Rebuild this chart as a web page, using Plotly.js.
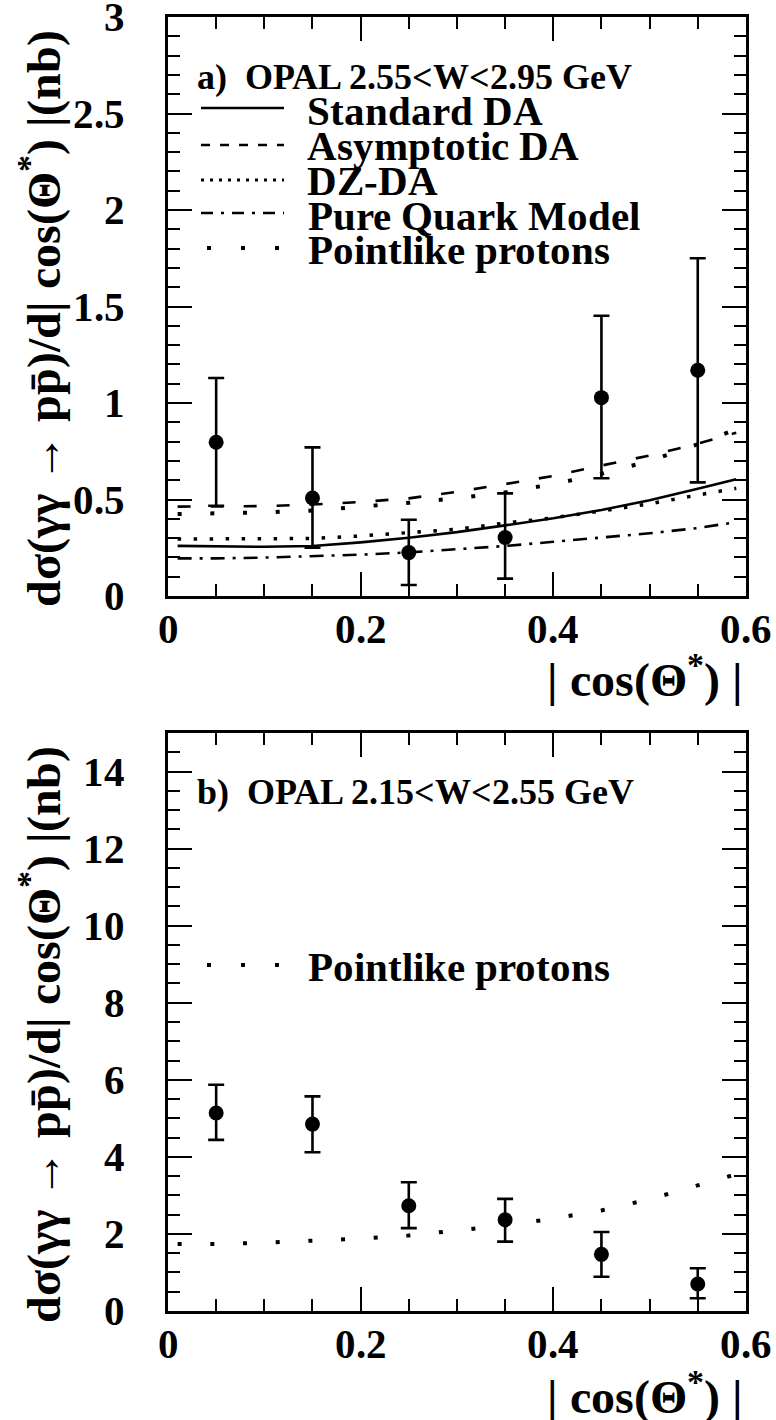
<!DOCTYPE html>
<html>
<head>
<meta charset="utf-8">
<script src="https://cdn.plot.ly/plotly-3.0.1.min.js"></script>
<style>
@font-face { font-family: 'OPALSerif'; src: local('Liberation Serif Bold'), local('LiberationSerif-Bold'), local('Times New Roman Bold'); font-weight: 700; font-display: swap; }
@font-face { font-family: 'OPALSerif'; src: local('Liberation Serif'), local('LiberationSerif'), local('Times New Roman'); font-weight: 400; font-display: swap; }
html,body{margin:0;padding:0;background:#fff;}
#chart svg text { font-family: 'OPALSerif', 'Liberation Serif', 'Times New Roman', serif !important; fill: #000 !important; }
</style>
</head>
<body>
<div id="chart" style="width:776px;height:1420px;"></div>
<script>
// ---- Panel a: 2.55 < W < 2.95 GeV ----
const xData = [0.05, 0.15, 0.25, 0.35, 0.45, 0.55];
const yDataA = [0.797, 0.508, 0.225, 0.303, 1.028, 1.17];
const errPlusA = [0.333, 0.262, 0.170, 0.229, 0.424, 0.580];
const errMinusA = [0.329, 0.258, 0.168, 0.213, 0.418, 0.581];

const xCurve = [0.01, 0.05, 0.1, 0.15, 0.2, 0.25, 0.3, 0.35, 0.4, 0.45, 0.5, 0.55, 0.59];
const yStandardDA = [0.260, 0.257, 0.255, 0.259, 0.278, 0.302, 0.331, 0.366, 0.403, 0.446, 0.496, 0.556, 0.605];
const yAsymptoticDA = [0.463, 0.464, 0.466, 0.474, 0.487, 0.506, 0.540, 0.580, 0.622, 0.676, 0.728, 0.789, 0.846];
const yDZDA = [0.295, 0.295, 0.295, 0.298, 0.311, 0.328, 0.346, 0.378, 0.405, 0.440, 0.478, 0.523, 0.558];
const yPureQuark = [0.195, 0.195, 0.199, 0.206, 0.214, 0.226, 0.242, 0.259, 0.281, 0.303, 0.325, 0.352, 0.383];
const yPointlikeA = [0.425, 0.428, 0.433, 0.443, 0.462, 0.483, 0.507, 0.537, 0.580, 0.633, 0.700, 0.786, 0.865];

// ---- Panel b: 2.15 < W < 2.55 GeV ----
const yDataB = [5.14, 4.85, 2.73, 2.37, 1.47, 0.70];
const errPlusB = [0.73, 0.72, 0.61, 0.54, 0.58, 0.41];
const errMinusB = [0.70, 0.73, 0.58, 0.57, 0.58, 0.37];
const yPointlikeB = [1.74, 1.74, 1.77, 1.82, 1.88, 1.96, 2.09, 2.22, 2.40, 2.61, 2.90, 3.25, 3.55];

// ---- texts ----
const headerA = 'a)\u00a0\u00a0OPAL 2.55&lt;W&lt;2.95 GeV';
const headerB = 'b)\u00a0\u00a0OPAL 2.15&lt;W&lt;2.55 GeV';
const legendNames = ['Standard DA', 'Asymptotic DA', 'DZ-DA', 'Pure Quark Model', 'Pointlike protons'];
const yTitle = 'd\u03c3(\u03b3\u03b3 \u2192 pp\u0304)/d| cos(\u0398<sup>*</sup>) |(nb)';
const xTitle = '| cos(\u0398<sup>*</sup>) |';

const FONT = 'Times New Roman';
const W = 776, H = 1420;
const px = v => v / W;
const py = v => 1 - v / H;

const dashes = {
  solid: 'solid',
  asym: '13px,20px',
  dz: '3.5px,12.5px',
  pq: '14px,8px,3px,8px',
  point: '4px,28.7px'
};

function curve(y, dash, width, xa, ya) {
  return {x: xCurve, y: y, mode: 'lines', type: 'scatter', xaxis: xa, yaxis: ya,
    line: {color: 'black', width: width, dash: dash}, showlegend: false, hoverinfo: 'skip'};
}
function dataTrace(y, ep, em, xa, ya) {
  return {x: xData, y: y, mode: 'markers', type: 'scatter', xaxis: xa, yaxis: ya,
    marker: {color: 'black', size: 15, symbol: 'circle'},
    error_y: {type: 'data', symmetric: false, array: ep, arrayminus: em, color: 'black', thickness: 2.6, width: 8},
    showlegend: false};
}
// invisible carrier traces so the opposite-side tick axes get a subplot and are drawn
function carrier(xa, ya) {
  return {x: [null], y: [null], type: 'scatter', mode: 'lines', xaxis: xa, yaxis: ya,
    line: {width: 0}, showlegend: false, hoverinfo: 'skip'};
}

const traces = [
  curve(yStandardDA, dashes.solid, 2.6, 'x', 'y'),
  curve(yAsymptoticDA, dashes.asym, 2.6, 'x', 'y'),
  curve(yDZDA, dashes.dz, 3.5, 'x', 'y'),
  curve(yPureQuark, dashes.pq, 2.6, 'x', 'y'),
  curve(yPointlikeA, dashes.point, 4, 'x', 'y'),
  dataTrace(yDataA, errPlusA, errMinusA, 'x', 'y'),
  curve(yPointlikeB, dashes.point, 4, 'x2', 'y2'),
  dataTrace(yDataB, errPlusB, errMinusB, 'x2', 'y2'),
  carrier('x3', 'y'),
  carrier('x', 'y3'),
  carrier('x4', 'y2'),
  carrier('x2', 'y4')
];

const tickFont = () => ({family: FONT, size: 41, weight: 'bold'});
const xDomain = [px(168), px(746)];
const X_RANGE = [0, 0.6001];

function xAxis(anchor, opts) {
  return Object.assign({domain: xDomain, anchor: anchor, range: X_RANGE, tick0: 0, dtick: 0.2,
    ticks: 'inside', ticklen: 24, tickwidth: 2, tickcolor: 'black',
    minor: {dtick: 0.05, ticks: 'inside', ticklen: 12, tickwidth: 2, tickcolor: 'black', showgrid: false},
    showline: true, linewidth: 3, linecolor: 'black', mirror: 'ticks',
    showgrid: false, zeroline: false, tickfont: tickFont(), ticklabelstandoff: -5,
    ticklabeloverflow: 'allow', fixedrange: true}, opts || {});
}
function yAxis(anchor, domain, range, dtick, mdtick, opts) {
  return Object.assign({domain: domain, anchor: anchor, range: range, tick0: 0, dtick: dtick,
    ticks: 'inside', ticklen: 24, tickwidth: 2, tickcolor: 'black',
    minor: {dtick: mdtick, ticks: 'inside', ticklen: 12, tickwidth: 2, tickcolor: 'black', showgrid: false},
    showline: true, linewidth: 3, linecolor: 'black', mirror: 'ticks',
    showgrid: false, zeroline: false, tickfont: tickFont(), ticklabelstandoff: 32,
    ticklabeloverflow: 'allow', fixedrange: true}, opts || {});
}
const mirrorOpts = (over, anchor, side) => ({overlaying: over, anchor: anchor, side: side,
  showticklabels: false, showline: false, mirror: false});

const yDomA = [py(596), py(17)];
const yDomB = [py(1311), py(733)];
const yRangeA = [0, 3.0005];
const yRangeB = [0, 15];

const annFont = (s) => ({family: FONT, size: s, weight: 'bold'});
const annotations = [];
const shapes = [];

// axis titles
[0, 716].forEach(off => {
  annotations.push({xref: 'paper', yref: 'paper', x: px(40), y: py(318 + off), text: yTitle,
    textangle: -90, showarrow: false, xanchor: 'center', yanchor: 'middle', font: annFont(48)});
  annotations.push({xref: 'paper', yref: 'paper', x: px(744), y: py(677 + off), text: xTitle,
    showarrow: false, xanchor: 'right', yanchor: 'middle', font: annFont(48)});
});

// panel a legend
annotations.push({xref: 'paper', yref: 'paper', x: px(195), y: py(77), text: headerA,
  showarrow: false, xanchor: 'left', yanchor: 'middle', font: annFont(36)});
const legY = [111, 146, 181, 216, 250];
const legLineY = [108, 145, 180, 213, 248];
const legDash = ['solid', '9px,10px', '3px,6px', '12px,8px,3px,8px', '4px,30px'];
const legWidth = [2.6, 2.6, 3, 2.6, 4];
legendNames.forEach((n, i) => {
  annotations.push({xref: 'paper', yref: 'paper', x: px(306), y: py(legY[i]), text: n,
    showarrow: false, xanchor: 'left', yanchor: 'middle', font: annFont(41)});
  shapes.push({type: 'line', xref: 'paper', yref: 'paper', x0: px(i === 4 ? 207 : 201), x1: px(i === 4 ? 281 : 284),
    y0: py(legLineY[i]), y1: py(legLineY[i]), line: {color: 'black', width: legWidth[i], dash: legDash[i]}});
});

// panel b legend
annotations.push({xref: 'paper', yref: 'paper', x: px(195), y: py(792), text: headerB,
  showarrow: false, xanchor: 'left', yanchor: 'middle', font: annFont(36)});
annotations.push({xref: 'paper', yref: 'paper', x: px(306), y: py(967), text: legendNames[4],
  showarrow: false, xanchor: 'left', yanchor: 'middle', font: annFont(41)});
shapes.push({type: 'line', xref: 'paper', yref: 'paper', x0: px(207), x1: px(281),
  y0: py(965), y1: py(965), line: {color: 'black', width: 4, dash: '4px,30px'}});

function makeLayout() {
  return {
    width: W, height: H,
    margin: {l: 0, r: 0, t: 0, b: 0},
    paper_bgcolor: 'white', plot_bgcolor: 'white',
    showlegend: false,
    xaxis: xAxis('y'),
    yaxis: yAxis('x', yDomA, yRangeA, 0.5, 0.1),
    xaxis2: xAxis('y2'),
    yaxis2: yAxis('x2', yDomB, yRangeB, 2, 0.5),
    // opposite-side (mirrored) tick axes, carrying the minor ticks too
    xaxis3: xAxis('y', mirrorOpts('x', 'y', 'top')),
    yaxis3: yAxis('x', yDomA, yRangeA, 0.5, 0.1, mirrorOpts('y', 'x', 'right')),
    xaxis4: xAxis('y2', mirrorOpts('x2', 'y2', 'top')),
    yaxis4: yAxis('x2', yDomB, yRangeB, 2, 0.5, mirrorOpts('y2', 'x2', 'right')),
    annotations: JSON.parse(JSON.stringify(annotations)),
    shapes: JSON.parse(JSON.stringify(shapes))
  };
}

const cfg = {displayModeBar: false};
function draw() {
  Plotly.purge('chart');
  Plotly.newPlot('chart', JSON.parse(JSON.stringify(traces)), makeLayout(), cfg);
}
draw();
if (document.fonts && document.fonts.load) {
  Promise.all([document.fonts.load('bold 40px OPALSerif'), document.fonts.load('bold 40px "Liberation Serif"')])
    .then(draw).catch(() => {});
}
</script>
</body>
</html>
